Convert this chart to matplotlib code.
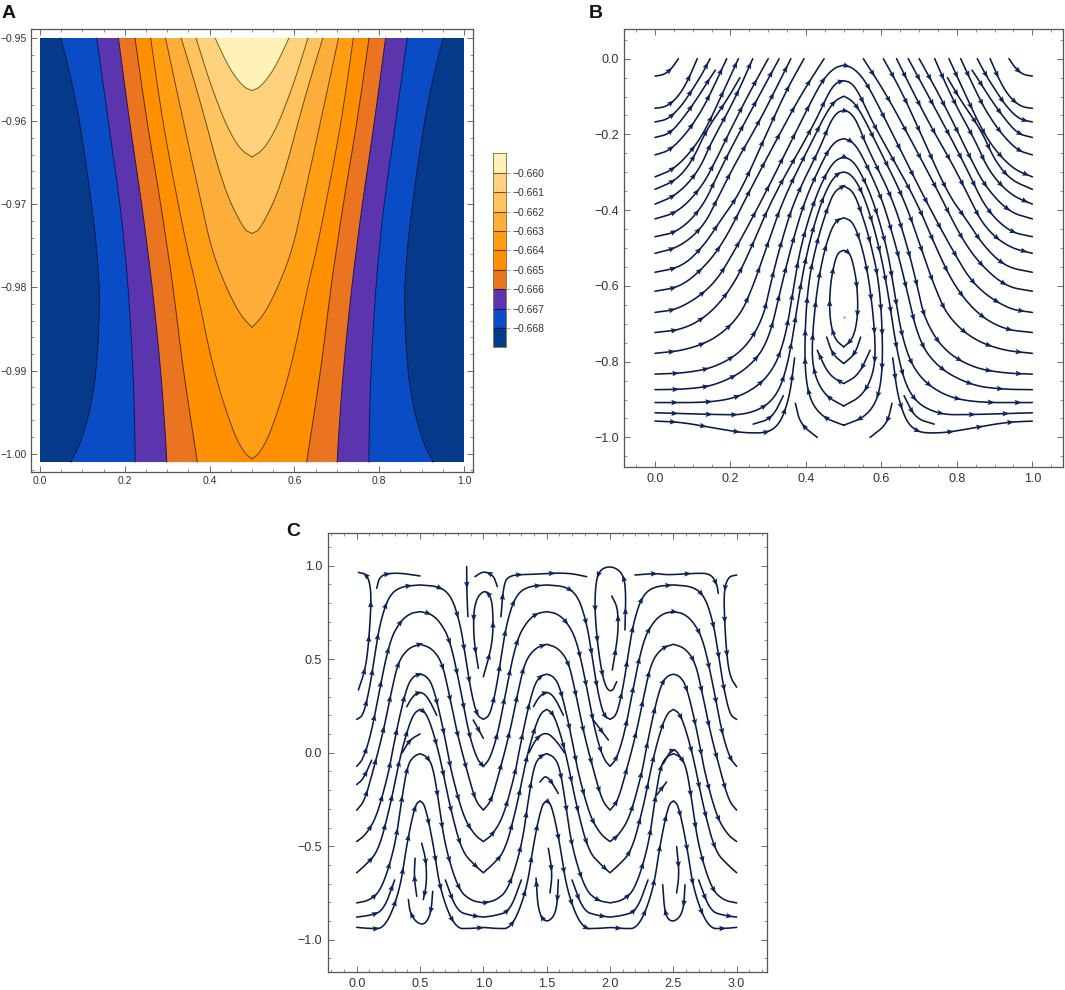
#! /usr/bin/env python

import numpy as np
import matplotlib
matplotlib.use('Agg')
import matplotlib.pyplot as plt
from matplotlib.ticker import MultipleLocator

plt.rcParams['font.family'] = ['Liberation Sans', 'DejaVu Sans']

W, H = 1065, 990

# Panel A: left branch of each contour, (x, y), right branch is its mirror
levels_a = [-0.668, -0.667, -0.666, -0.665, -0.664, -0.663, -0.662, -0.661, -0.660]
band_colors = ['#053a8b', '#0a4cc6', '#5a35ad', '#ea741f', '#fd8f00',
               '#ff9e12', '#feae3a', '#ffc35f', '#ffd27f', '#fff1b8']
line_colors = ['#051a45', '#06205c', '#2a1550', '#5e2f08', '#6b3d00',
               '#6b4500', '#6e4c08', '#75560f', '#7d6015']
contours_a = [
    [(.049, -.95), (.067, -.9534), (.094, -.96), (.122, -.97), (.134, -.9755), (.14, -.98),
     (.14, -.9835), (.135, -.9884), (.126, -.9928), (.102, -.998), (.073, -1.001)],
    [(.134, -.95), (.161, -.96), (.189, -.97), (.2, -.9755), (.208, -.98), (.22, -.99),
     (.224, -.9985), (.224, -1.001)],
    [(.185, -.95), (.211, -.96), (.24, -.97), (.254, -.9755), (.265, -.98), (.285, -.99),
     (.296, -.998), (.299, -1.001)],
    [(.224, -.95), (.252, -.96), (.285, -.97), (.301, -.9755), (.314, -.98), (.338, -.99),
     (.362, -.998), (.371, -1.001)],
    [(.261, -.95), (.289, -.96), (.326, -.97), (.348, -.9755), (.369, -.98), (.409, -.99),
     (.456, -.9975), (.483, -1.0), (.5, -1.0006)],
    [(.296, -.95), (.338, -.96), (.381, -.97), (.405, -.9755), (.439, -.98), (.472, -.9833),
     (.5, -.9848)],
    [(.333, -.95), (.377, -.9574), (.432, -.9679), (.48, -.973), (.5, -.9735)],
    [(.368, -.95), (.401, -.9554), (.44, -.9606), (.472, -.9634), (.5, -.9643)],
    [(.413, -.95), (.448, -.9538), (.48, -.9559), (.5, -.9563)],
]
ticks_ax = [0.0, 0.2, 0.4, 0.6, 0.8, 1.0]
labels_ax = ['0.0', '0.2', '0.4', '0.6', '0.8', '1.0']
ticks_ay = [-1.0, -0.99, -0.98, -0.97, -0.96, -0.95]
labels_ay = ['\u22121.00', '\u22120.99', '\u22120.98', '\u22120.97', '\u22120.96', '\u22120.95']

# Panel B: streamlines, left half only, they are mirrored about x = 0.5
exits_b = [
    [(0, -.046), (.025, -.042), (.045, -.025), (.062, 0)],
    [(0, -.131), (.03, -.127), (.06, -.102), (.085, -.062), (.112, 0)],
    [(0, -.167), (.035, -.16), (.07, -.125), (.1, -.08), (.125, -.04), (.146, 0)],
    [(0, -.208), (.04, -.198), (.08, -.15), (.115, -.1), (.14, -.06), (.16, -.03)],
    [(0, -.254), (.04, -.242), (.085, -.195), (.125, -.135), (.155, -.075), (.19, 0)],
    [(0, -.312), (.05, -.292), (.1, -.24), (.135, -.185), (.175, -.1), (.221, 0)],
    [(0, -.345), (.058, -.32), (.1, -.268), (.135, -.19), (.19, -.11), (.225, -.05)],
    [(0, -.384), (.058, -.36), (.115, -.298), (.15, -.219), (.21, -.11), (.259, 0)],
    [(0, -.423), (.062, -.405), (.124, -.339), (.164, -.263), (.2, -.188), (.25, -.09), (.3, 0)],
    [(0, -.47), (.062, -.457), (.124, -.395), (.168, -.303), (.208, -.224), (.28, -.09), (.329, 0)],
    [(0, -.514), (.066, -.497), (.128, -.444), (.168, -.365), (.208, -.285), (.274, -.17),
     (.32, -.08), (.36, 0)],
    [(0, -.564), (.071, -.55), (.128, -.496), (.177, -.422), (.225, -.355), (.3, -.188),
     (.35, -.08), (.395, 0)],
    [(0, -.614), (.071, -.602), (.141, -.54), (.19, -.47), (.25, -.35), (.336, -.188),
     (.39, -.09), (.448, 0)],
    [(0, -.957), (.07, -.96), (.155, -.975), (.245, -.99), (.32, -.985), (.355, -.905), (.37, -.79)],
    [(.26, -.965), (.31, -.95), (.34, -.89)],
    [(.43, -1.0), (.385, -.965), (.372, -.91)],
]
arches_b = [
    [(0, -.67), (.066, -.661), (.155, -.6), (.215, -.5), (.285, -.37), (.36, -.22), (.41, -.12),
     (.445, -.055), (.475, -.024), (.5, -.017)],
    [(0, -.723), (.075, -.715), (.145, -.675), (.207, -.6), (.255, -.5), (.31, -.37), (.395, -.22),
     (.43, -.155), (.46, -.09), (.48, -.063), (.5, -.058)],
    [(0, -.778), (.08, -.77), (.16, -.74), (.225, -.68), (.26, -.6), (.295, -.5), (.34, -.37),
     (.42, -.21), (.45, -.15), (.475, -.112), (.5, -.099)],
    [(0, -.833), (.08, -.83), (.16, -.815), (.235, -.77), (.285, -.69), (.305, -.6), (.33, -.5),
     (.37, -.37), (.44, -.23), (.465, -.165), (.485, -.14), (.5, -.137)],
    [(0, -.874), (.08, -.873), (.16, -.863), (.245, -.82), (.3, -.75), (.335, -.6), (.36, -.5),
     (.395, -.38), (.43, -.3), (.46, -.24), (.48, -.217), (.5, -.211)],
    [(0, -.908), (.16, -.908), (.245, -.885), (.31, -.83), (.345, -.74), (.368, -.6), (.385, -.5),
     (.42, -.38), (.45, -.31), (.475, -.27), (.5, -.259)],
    [(0, -.935), (.16, -.94), (.25, -.94), (.32, -.9), (.355, -.8), (.385, -.6), (.41, -.48),
     (.44, -.38), (.465, -.325), (.485, -.303), (.5, -.299)],
    [(.5, -.968), (.44, -.945), (.405, -.89), (.395, -.78), (.404, -.6), (.43, -.48), (.455, -.4),
     (.475, -.35), (.5, -.336)],
    [(.5, -.917), (.45, -.89), (.42, -.83), (.415, -.75), (.43, -.6), (.45, -.5), (.475, -.43),
     (.5, -.42)],
    [(.5, -.761), (.475, -.74), (.462, -.68), (.464, -.6), (.475, -.54), (.485, -.512), (.5, -.506)],
]
bowls_b = [
    [(.5, -.805), (.47, -.78), (.455, -.735)],
    [(.5, -.858), (.46, -.835), (.43, -.77)],
]
ticks_bx = [0.0, 0.2, 0.4, 0.6, 0.8, 1.0]
labels_bx = ['0.0', '0.2', '0.4', '0.6', '0.8', '1.0']
ticks_by = [0.0, -0.2, -0.4, -0.6, -0.8, -1.0]
labels_by = ['0.0', '\u22120.2', '\u22120.4', '\u22120.6', '\u22120.8', '\u22121.0']

# Panel C: half a wave (x from 0 to 0.5), repeated over the three periods
waves_c = [
    [(0, .178), (.053, .2), (.105, .354), (.145, .532), (.184, .692), (.25, .834), (.342, .888), (.5, .897)],
    [(0, -.073), (.053, -.032), (.118, .112), (.184, .353), (.263, .602), (.342, .7), (.42, .745), (.5, .754)],
    [(0, -.307), (.06, -.26), (.12, -.12), (.21, .112), (.276, .335), (.33, .49), (.41, .56), (.5, .58)],
    [(0, -.475), (.07, -.44), (.158, -.342), (.25, -.112), (.28, 0), (.34, .2), (.4, .36), (.45, .41), (.5, .42)],
    [(0, -.642), (.07, -.6), (.17, -.528), (.263, -.29), (.34, -.03), (.4, .12), (.45, .21), (.5, .232)],
    [(0, -.803), (.1, -.79), (.197, -.732), (.303, -.5), (.355, -.25), (.4, -.07), (.447, -.02), (.5, -.005)],
    [(0, -.934), (.1, -.94), (.224, -.94), (.34, -.74), (.395, -.49), (.46, -.28), (.5, -.257)],
]
valley_c = [(0, -.879), (.1, -.87), (.21, -.847), (.3, -.68)]
segments_c = [
    [(.013, .335), (.066, .442), (.092, .567), (.113, .78), (.11, .888), (.079, .954), (.013, .964)],
    [(.158, .879), (.184, .95), (.316, .963), (.5, .945)],
    [(.868, .995), (.87, .85), (.878, .727)],
    [(1.11, .888), (1.079, .95), (1.0, .971), (.934, .941)],
    [(1.0, .406), (1.066, .567), (1.079, .692), (1.066, .834), (1.0, .873), (.926, .799), (.921, .62), (.96, .451)],
    [(1.139, .727), (1.158, .888), (1.197, .95), (1.395, .954), (1.658, .963), (1.816, .941)],
    [(2.118, .656), (2.126, .888), (2.092, .968), (2.0, 1.0), (1.908, .973), (1.882, .87), (1.882, .727),
     (1.913, .513), (1.96, .353), (2.013, .321), (2.053, .38)],
    [(2.018, .442), (2.053, .585), (2.066, .674), (2.058, .78), (2.013, .838)],
    [(2.197, .95), (2.368, .959), (2.447, .95), (2.658, .959), (2.79, .959), (2.842, .906), (2.855, .852)],
    [(3.0, .95), (2.934, .941), (2.9, .87), (2.903, .727), (2.92, .531), (2.947, .406), (3.0, .35)],
    [(.395, .246), (.44, .3), (.5, .328), (.56, .3), (.632, .2)],
    [(1.395, .246), (1.44, .3), (1.5, .328), (1.56, .3), (1.632, .2)],
    [(.36, 0), (.42, .07), (.5, .1)],
    [(1.36, 0), (1.42, .08), (1.5, .112), (1.58, .06), (1.64, 0)],
    [(2.42, -.06), (2.5, .036), (2.58, -.05)],
    [(.92, .175), (1.0, .077)],
    [(1.868, .175), (1.987, .068)],
    [(0, -.17), (.053, -.14), (.118, -.04)],
    [(.474, -.768), (.453, -.664), (.461, -.564)],
    [(.513, -.484), (.547, -.573), (.553, -.697), (.526, -.785)],
    [(.6, -.741), (.587, -.856), (.539, -.92), (.474, -.91), (.421, -.856), (.408, -.785)],
    [(1.513, -.511), (1.545, -.644), (1.526, -.75)],
    [(1.592, -.679), (1.579, -.856), (1.5, -.913), (1.434, -.856), (1.416, -.67)],
    [(2.526, -.502), (2.547, -.644), (2.526, -.75)],
    [(2.592, -.706), (2.579, -.856), (2.5, -.91), (2.434, -.874), (2.416, -.706)],
    [(2.368, -.227), (2.447, -.156)],
    [(1.447, -.156), (1.5, -.115), (1.592, -.218)],
]
ticks_cx = [0.0, 0.5, 1.0, 1.5, 2.0, 2.5, 3.0]
labels_cx = ['0.0', '0.5', '1.0', '1.5', '2.0', '2.5', '3.0']
ticks_cy = [-1.0, -0.5, 0.0, 0.5, 1.0]
labels_cy = ['\u22121.0', '\u22120.5', '0.0', '0.5', '1.0']

LINE = '#0a1a45'
ARROW = '#0a2560'


def px_axes(fig, left, top, right, bottom):
    return fig.add_axes([left / W, 1 - bottom / H, (right - left) / W, (bottom - top) / H])


def smooth(pts, n=3):
    # corner cutting so the read-off points don't show as kinks, ends are kept
    p = np.asarray(pts, dtype=float)
    for _ in range(n):
        q = 0.75 * p[:-1] + 0.25 * p[1:]
        r = 0.25 * p[:-1] + 0.75 * p[1:]
        mid = np.empty((2 * len(q), 2))
        mid[0::2] = q
        mid[1::2] = r
        p = np.vstack([p[:1], mid, p[-1:]])
    return p


def mirror(p, about=0.5):
    m = p[::-1].copy()
    m[:, 0] = 2 * about - m[:, 0]
    return m


def style_axes(ax, xlim, ylim, xticks, xlabels, yticks, ylabels, xminor, yminor, size=7.5, pad=4):
    ax.set_xlim(xlim)
    ax.set_ylim(ylim)
    ax.set_xticks(xticks, xlabels)
    ax.set_yticks(yticks, ylabels)
    ax.xaxis.set_minor_locator(MultipleLocator(xminor))
    ax.yaxis.set_minor_locator(MultipleLocator(yminor))
    ax.tick_params(which='major', direction='in', length=4.5, width=0.6, color='#555555',
                   top=True, right=True, labelsize=size, labelcolor='#333333', pad=pad)
    ax.tick_params(which='minor', direction='in', length=2.2, width=0.5, color='#666666',
                   top=True, right=True)
    for s in ax.spines.values():
        s.set_linewidth(0.9)
        s.set_color('#555555')


def draw_streams(ax, paths, step=30.0):
    ax_x, ax_y, ax_u, ax_v = [], [], [], []
    for p in paths:
        ax.plot(p[:, 0], p[:, 1], color=LINE, lw=1.15, solid_capstyle='round', zorder=2)
        d = ax.transData.transform(p)
        seg = np.hypot(*np.diff(d, axis=0).T)
        s = np.concatenate([[0], np.cumsum(seg)])
        if s[-1] < 12:
            continue
        for t in np.arange(min(step * 0.55, s[-1] * 0.5), s[-1] - 5, step):
            i = min(np.searchsorted(s, t), len(seg) - 1)
            j = min(i + 3, len(d) - 1)
            k = max(i - 3, 0)
            u, v = d[j] - d[k]
            n = np.hypot(u, v) or 1.0
            ax_x.append(p[i, 0])
            ax_y.append(p[i, 1])
            ax_u.append(u / n * 7)
            ax_v.append(v / n * 7)
    ax.quiver(ax_x, ax_y, ax_u, ax_v, units='dots', scale_units='dots', scale=1, angles='uv',
              pivot='mid', width=1.0, headwidth=5.5, headlength=7, headaxislength=6,
              color=ARROW, zorder=3)


fig = plt.figure(figsize=(W / 100, H / 100), dpi=100)

# --- A
ax_a = px_axes(fig, 31, 29, 473, 472)
style_axes(ax_a, (-0.0212, 1.0212), (-1.0022, -0.9489), ticks_ax, labels_ax, ticks_ay, labels_ay,
           0.05, 0.002, pad=3)
ax_a.fill_between([0, 1], -1.001, -0.95, color=band_colors[0], lw=0, zorder=1)
for i, c in enumerate(contours_a):
    half = smooth(c, 2)
    poly = np.vstack([half, mirror(half)])
    ax_a.fill(poly[:, 0], poly[:, 1], color=band_colors[i + 1], lw=0, zorder=1 + i * 0.01)
for i, c in enumerate(contours_a):
    half = smooth(c, 2)
    right = mirror(half)
    ax_a.plot(half[:, 0], half[:, 1], color=line_colors[i], lw=0.7, zorder=2)
    ax_a.plot(right[:, 0], right[:, 1], color=line_colors[i], lw=0.7, zorder=2)

# colour bar
ax_cb = px_axes(fig, 493, 153.3, 506, 346.7)
ax_cb.set_xlim(0, 1)
ax_cb.set_ylim(-0.66895, -0.65900)
edges = [-0.66895] + levels_a + [-0.65900]
for i, col in enumerate(band_colors):
    ax_cb.axhspan(edges[i], edges[i + 1], color=col, lw=0)
ax_cb.hlines(levels_a, 0, 1, colors=line_colors, lw=0.8)
ax_cb.set_xticks([])
ax_cb.yaxis.tick_right()
ax_cb.set_yticks(levels_a, ['\u2212%.3f' % abs(v) for v in levels_a])
ax_cb.tick_params(axis='y', length=3, width=0.6, color='#999999', labelsize=7.5,
                  labelcolor='#333333', pad=1.5)
for s in ax_cb.spines.values():
    s.set_linewidth(0.7)
    s.set_color('#8a7a50')

# --- B
ax_b = px_axes(fig, 624.3, 29, 1063.3, 467.3)
style_axes(ax_b, (-0.0814, 1.082), (-1.079, 0.0784), ticks_bx, labels_bx, ticks_by, labels_by,
           0.05, 0.05, size=9)
paths_b = []
for c in exits_b:
    half = smooth(c)
    paths_b += [half, mirror(half)]
for c in arches_b:
    half = smooth(c)
    paths_b.append(np.vstack([half, mirror(half)]))
for c in bowls_b:
    half = smooth(c)
    paths_b.append(np.vstack([mirror(half), half]))
draw_streams(ax_b, paths_b, step=31.0)
ax_b.plot([0.5], [-0.683], marker='.', ms=1, color='#777777')

# --- C
ax_c = px_axes(fig, 327.7, 533.3, 766.7, 972.3)
style_axes(ax_c, (-0.229, 3.237), (-1.174, 1.173), ticks_cx, labels_cx, ticks_cy, labels_cy,
           0.1, 0.1, size=9)
paths_c = []
for c in waves_c:
    half = smooth(c)
    parts = []
    for k in range(6):
        if k % 2 == 0:
            piece = half.copy()
            piece[:, 0] += k * 0.5
        else:
            piece = mirror(half, about=0.5)
            piece[:, 0] += (k - 1) * 0.5
        parts.append(piece)
    paths_c.append(np.vstack(parts))
v = smooth(valley_c)
v_left = mirror(v, about=0.0)
for x0 in [1.0, 2.0]:
    part = np.vstack([v_left, v])
    part[:, 0] += x0
    paths_c.append(part)
paths_c.append(v)
edge = mirror(v, about=0.0)
edge[:, 0] += 3.0
paths_c.append(edge)
for c in segments_c:
    paths_c.append(smooth(c))
draw_streams(ax_c, paths_c, step=33.0)

# panel letters
for letter, x, y in [('A', 2, 18), ('B', 589, 18), ('C', 286, 536)]:
    fig.text(x / W, 1 - y / H, letter, fontsize=14, fontweight='bold', color='#111111')

fig.savefig('out.png', dpi=100)
